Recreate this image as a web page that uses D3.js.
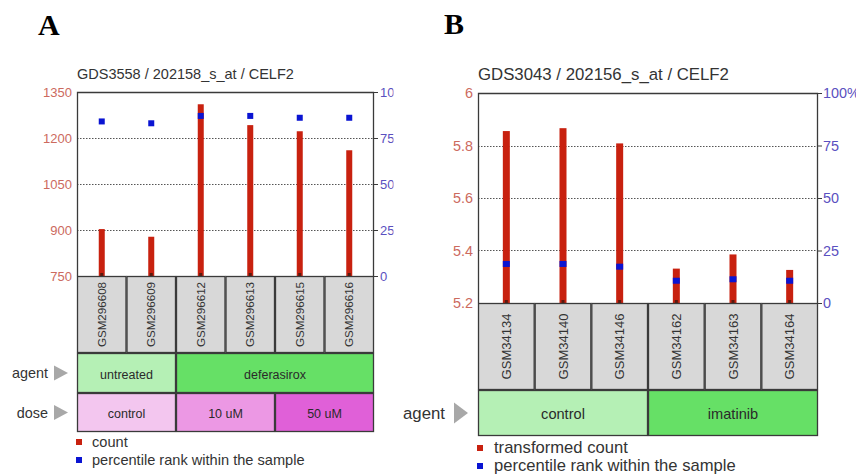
<!DOCTYPE html>
<html>
<head>
<meta charset="utf-8">
<script src="https://cdn.jsdelivr.net/npm/d3@7"></script>
<style>
  html, body { margin: 0; padding: 0; background: #fff; }
  svg { display: block; font-family: "Liberation Sans", Arial, sans-serif; }
</style>
</head>
<body>
<svg id="chart" width="856" height="474"></svg>
<script>
// ---- Panel A: GDS3558 / 202158_s_at / CELF2 ----
const samplesA = ["GSM296608", "GSM296609", "GSM296612", "GSM296613", "GSM296615", "GSM296616"];
const countA = [903, 878, 1310, 1242, 1222, 1160];
const rankA = [84, 83, 87, 87, 86, 86];
const countTicksA = [750, 900, 1050, 1200, 1350];
const agentA = ["untreated", "untreated", "deferasirox", "deferasirox", "deferasirox", "deferasirox"];
const doseA = ["control", "control", "10 uM", "10 uM", "50 uM", "50 uM"];

// ---- Panel B: GDS3043 / 202156_s_at / CELF2 ----
const samplesB = ["GSM34134", "GSM34140", "GSM34146", "GSM34162", "GSM34163", "GSM34164"];
const countB = [5.855, 5.866, 5.808, 5.331, 5.385, 5.326];
const rankB = [18.6, 18.6, 17.3, 10.6, 11.3, 10.6];
const countTicksB = [5.2, 5.4, 5.6, 5.8, 6.0];
const agentB = ["control", "control", "control", "imatinib", "imatinib", "imatinib"];

const rankTicks = [0, 25, 50, 75, 100];

const COLORS = {
  bar: "#c8210f",
  point: "#0a14d2",
  leftTick: "#cc6a5e",
  rightTick: "#5a50c0",
  frame: "#3a3a3a",
  grid: "#555",
  sampleFill: "#d8d8d8",
  arrow: "#a8a8a8",
  groups: {
    "untreated": "#b5f0b5", "deferasirox": "#66e066",
    "control": "#b5f0b5", "imatinib": "#66e066"
  },
  dose: { "control": "#f3c6ef", "10 uM": "#ec98e4", "50 uM": "#e060d8" }
};

const svg = d3.select("#chart");

// Panel letters
svg.append("text").attr("x", 38).attr("y", 35).text("A")
  .attr("font-family", "'Liberation Serif', 'Times New Roman', serif")
  .attr("font-weight", "bold").attr("font-size", 30).attr("fill", "#000");
svg.append("text").attr("x", 444).attr("y", 34).text("B")
  .attr("font-family", "'Liberation Serif', 'Times New Roman', serif")
  .attr("font-weight", "bold").attr("font-size", 30).attr("fill", "#000");

// Runs of equal consecutive values -> [{label, start, end}]
function runs(values) {
  const out = [];
  values.forEach((v, i) => {
    const last = out[out.length - 1];
    if (last && last.label === v) last.end = i;
    else out.push({ label: v, start: i, end: i });
  });
  return out;
}

function drawPanel(cfg) {
  const g = svg.append("g");
  if (cfg.clipRight) {
    const id = "clip-" + cfg.key;
    svg.append("clipPath").attr("id", id)
      .append("rect").attr("x", 0).attr("y", 0).attr("width", cfg.clipRight).attr("height", 474);
    g.attr("clip-path", `url(#${id})`);
  }

  const x = d3.scaleBand().domain(cfg.samples).range([cfg.left, cfg.right]).padding(0);
  const y = d3.scaleLinear().domain(d3.extent(cfg.countTicks)).range([cfg.bottom, cfg.top]);
  const yr = d3.scaleLinear().domain([0, 100]).range([cfg.bottom, cfg.top]);

  // Title
  g.append("text").attr("x", cfg.left).attr("y", cfg.top - 13)
    .attr("font-size", cfg.fs.title).attr("fill", "#333").text(cfg.title);

  // Dotted gridlines at the inner ticks
  g.append("g").selectAll("line")
    .data(cfg.countTicks.slice(1, -1)).join("line")
    .attr("x1", cfg.left).attr("x2", cfg.right)
    .attr("y1", d => Math.round(y(d)) + 0.5).attr("y2", d => Math.round(y(d)) + 0.5)
    .attr("stroke", cfg.gridColor || COLORS.grid).attr("stroke-width", 1.2)
    .attr("stroke-dasharray", "1.5,1.5");

  // Left axis (count)
  const leftAxis = g.append("g").attr("transform", `translate(${cfg.left},0)`)
    .call(d3.axisLeft(y).tickValues(cfg.countTicks).tickSize(0).tickPadding(cfg.leftPad)
      .tickFormat(cfg.countFormat));
  leftAxis.select(".domain").remove();
  leftAxis.selectAll("text").attr("fill", COLORS.leftTick).attr("font-size", cfg.fs.tick)
    .attr("font-family", "'Liberation Sans', Arial, sans-serif");

  // Right axis (percentile rank)
  const rightAxis = g.append("g").attr("transform", `translate(${cfg.right},0)`)
    .call(d3.axisRight(yr).tickValues(rankTicks).tickSize(4).tickPadding(cfg.rightPad)
      .tickFormat(cfg.rankFormat));
  rightAxis.select(".domain").remove();
  rightAxis.selectAll("line").attr("stroke", COLORS.frame);
  rightAxis.selectAll("text").attr("fill", COLORS.rightTick).attr("font-size", cfg.fs.tick)
    .attr("font-family", "'Liberation Sans', Arial, sans-serif");

  // Bars (count)
  g.append("g").selectAll("rect")
    .data(cfg.samples).join("rect")
    .attr("x", (d) => x(d) + x.bandwidth() / 2 - cfg.barW / 2)
    .attr("width", cfg.barW)
    .attr("y", (d, i) => y(cfg.counts[i]))
    .attr("height", (d, i) => y.range()[0] - y(cfg.counts[i]))
    .attr("fill", COLORS.bar);

  // Small dark foot marks at the base of each bar
  g.append("g").selectAll("rect")
    .data(cfg.samples).join("rect")
    .attr("x", d => x(d) + x.bandwidth() / 2 - 1.5)
    .attr("y", cfg.bottom - 3).attr("width", 3).attr("height", 3)
    .attr("fill", "#5a1a10");

  // Percentile points
  g.append("g").selectAll("rect")
    .data(cfg.samples).join("rect")
    .attr("x", d => x(d) + x.bandwidth() / 2 - cfg.ptW / 2)
    .attr("y", (d, i) => yr(cfg.ranks[i]) - cfg.ptH / 2)
    .attr("width", cfg.ptW).attr("height", cfg.ptH)
    .attr("fill", COLORS.point);

  // Plot frame (left, top, right)
  g.append("path")
    .attr("d", `M${cfg.left + 0.5},${cfg.bottom}V${cfg.top + 0.5}H${cfg.right - 0.5}V${cfg.bottom}`)
    .attr("fill", "none").attr("stroke", COLORS.frame).attr("stroke-width", 1.3);

  // Sample name boxes
  const sBox = g.append("g").selectAll("g").data(cfg.samples).join("g");
  sBox.append("rect")
    .attr("x", d => x(d) + 0.5).attr("y", cfg.bottom + 0.5)
    .attr("width", x.bandwidth() - 1).attr("height", cfg.sampleH - 1)
    .attr("fill", COLORS.sampleFill).attr("stroke", COLORS.frame).attr("stroke-width", 1.3);
  sBox.append("text")
    .attr("transform", d => `translate(${x(d) + x.bandwidth() / 2 + cfg.fs.sample * 0.36},${cfg.bottom + cfg.sampleH / 2}) rotate(-90)`)
    .attr("text-anchor", "middle").attr("font-size", cfg.fs.sample).attr("fill", "#333")
    .text(d => d);

  // Annotation rows (agent, dose, ...)
  let rowTop = cfg.bottom + cfg.sampleH;
  cfg.rows.forEach(row => {
    const rg = g.append("g");
    const segs = runs(row.values);
    rg.selectAll("rect").data(segs).join("rect")
      .attr("x", s => x(cfg.samples[s.start]) + 0.5)
      .attr("y", rowTop + 0.5)
      .attr("width", s => x(cfg.samples[s.end]) + x.bandwidth() - x(cfg.samples[s.start]) - 1)
      .attr("height", row.h - 1)
      .attr("fill", s => row.colors[s.label])
      .attr("stroke", COLORS.frame).attr("stroke-width", 1.3);
    rg.selectAll("text").data(segs).join("text")
      .attr("x", s => (x(cfg.samples[s.start]) + x(cfg.samples[s.end]) + x.bandwidth()) / 2)
      .attr("y", rowTop + row.h / 2 + cfg.fs.group * 0.36 + 1)
      .attr("text-anchor", "middle").attr("font-size", cfg.fs.group).attr("fill", "#2a2a2a")
      .text(s => s.label);
    // Row name and arrow
    const cy = rowTop + row.h / 2;
    rg.append("text").attr("x", cfg.rowLabelX).attr("y", cy + cfg.fs.row * 0.36)
      .attr("text-anchor", "end").attr("font-size", cfg.fs.row).attr("fill", "#333")
      .text(row.name);
    rg.append("path")
      .attr("d", `M${cfg.arrowX},${cy - cfg.arrowH / 2}L${cfg.arrowX + 14},${cy}L${cfg.arrowX},${cy + cfg.arrowH / 2}Z`)
      .attr("fill", COLORS.arrow);
    rowTop += row.h;
  });

  // Legend
  const legend = [
    { color: COLORS.bar, label: cfg.countLabel },
    { color: COLORS.point, label: "percentile rank within the sample" }
  ];
  const lg = g.append("g").selectAll("g").data(legend).join("g")
    .attr("transform", (d, i) => `translate(${cfg.left},${cfg.legendY + i * cfg.legendStep})`);
  lg.append("rect").attr("x", -1).attr("y", -5).attr("width", 6).attr("height", 6)
    .attr("fill", d => d.color);
  lg.append("text").attr("x", cfg.legendTextDx).attr("y", 3)
    .attr("font-size", cfg.fs.legend).attr("fill", "#333").text(d => d.label);
}

drawPanel({
  key: "a",
  title: "GDS3558 / 202158_s_at / CELF2",
  samples: samplesA, counts: countA, ranks: rankA, countTicks: countTicksA,
  countFormat: d3.format("d"), rankFormat: d3.format("d"),
  countLabel: "count",
  left: 77, right: 374, top: 92, bottom: 276,
  sampleH: 77,
  rows: [
    { name: "agent", values: agentA, colors: COLORS.groups, h: 40 },
    { name: "dose", values: doseA, colors: COLORS.dose, h: 39 }
  ],
  barW: 6, ptW: 6, ptH: 6,
  leftPad: 5, rightPad: 2,
  rowLabelX: 48, arrowX: 54, arrowH: 15,
  legendY: 444, legendStep: 18, legendTextDx: 15,
  clipRight: 393.5,
  fs: { title: 14.5, tick: 13, sample: 11.6, group: 12.5, row: 14.4, legend: 14.6 }
});

drawPanel({
  key: "b",
  title: "GDS3043 / 202156_s_at / CELF2",
  samples: samplesB, counts: countB, ranks: rankB, countTicks: countTicksB,
  countFormat: d => (d === 6 ? "6" : d3.format(".1f")(d)),
  rankFormat: d => (d === 100 ? "100%" : String(d)),
  countLabel: "transformed count",
  left: 478, right: 818, top: 93, bottom: 303,
  sampleH: 87,
  rows: [
    { name: "agent", values: agentB, colors: COLORS.groups, h: 46 }
  ],
  barW: 7, ptW: 7, ptH: 6,
  leftPad: 5, rightPad: 1,
  rowLabelX: 445, arrowX: 454, arrowH: 21,
  legendY: 450, legendStep: 18, legendTextDx: 16,
  fs: { title: 16.8, tick: 14.4, sample: 13, group: 14.6, row: 16.8, legend: 16.6 }
});
</script>
</body>
</html>
